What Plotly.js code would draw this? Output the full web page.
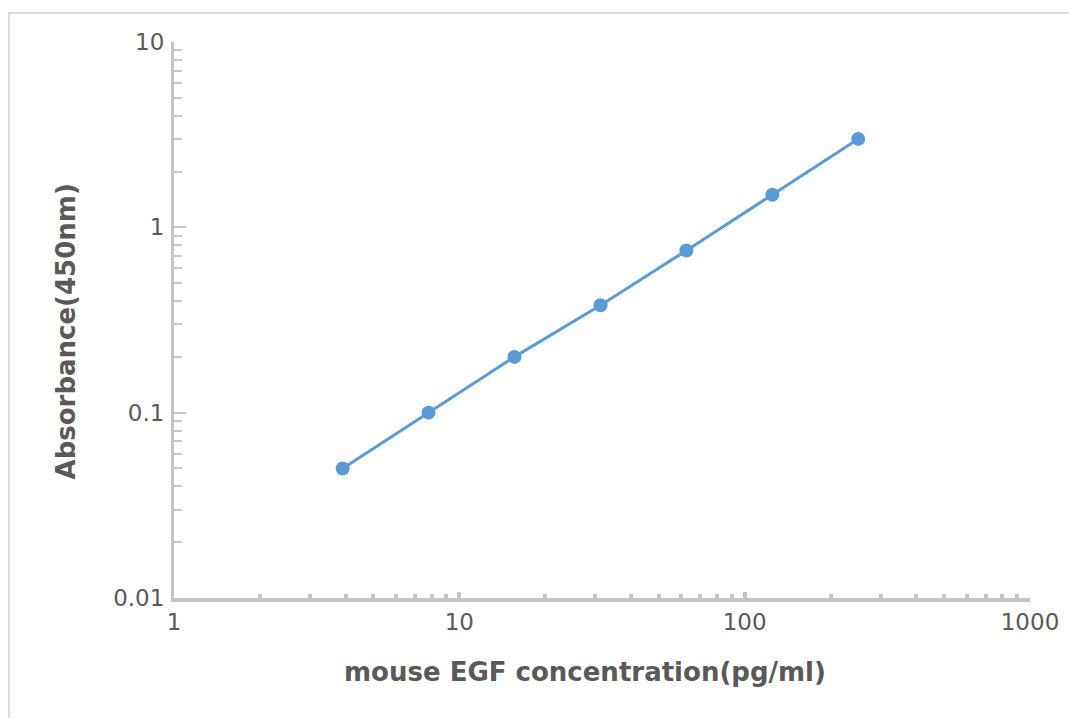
<!DOCTYPE html>
<html>
<head>
<meta charset="utf-8">
<script src="https://cdn.plot.ly/plotly-3.0.1.min.js"></script>
<style>
html,body{margin:0;padding:0;background:#fff;}
#frame{position:absolute;left:8px;top:12px;width:1061px;height:706px;border-left:2px solid #dcdcdc;border-top:2px solid #dcdcdc;box-sizing:border-box;}
#chart{position:absolute;left:0;top:0;width:1069px;height:718px;}
</style>
</head>
<body>
<div id="frame"></div>
<div id="chart"></div>
<script>
// Data
const concentration = [3.9, 7.8, 15.6, 31.25, 62.5, 125, 250];
const absorbance = [0.05, 0.1, 0.2, 0.38, 0.75, 1.5, 3.0];
const xMajorTicks = [1, 10, 100, 1000];
const xMajorLabels = ['1', '10', '100', '1000'];
const xMinorTicks = [2,3,4,5,6,7,8,9,20,30,40,50,60,70,80,90,200,300,400,500,600,700,800,900];
const yMajorTicks = [0.01, 0.1, 1, 10];
const yMajorLabels = ['0.01', '0.1', '1', '10'];
const yMinorTicks = [0.02,0.03,0.04,0.05,0.06,0.07,0.08,0.09,0.2,0.3,0.4,0.5,0.6,0.7,0.8,0.9,2,3,4,5,6,7,8,9];
const xTitle = 'mouse EGF concentration(pg/ml)';
const yTitle = 'Absorbance(450nm)';

const blue = '#5b9bd5';
const trace = {
  x: concentration, y: absorbance, type: 'scatter', mode: 'lines+markers',
  line: {color: blue, width: 3},
  marker: {color: blue, size: 14},
  cliponaxis: false,
  hoverinfo: 'skip'
};
const fontFam = 'DejaVu Sans, sans-serif';
const titleFont = {family: fontFam, size: 26, color: '#595959', weight: 'bold'};
const layout = {
  width: 1069, height: 718,
  margin: {l: 174, r: 39, t: 42, b: 120, pad: 0},
  paper_bgcolor: 'rgba(0,0,0,0)', plot_bgcolor: 'rgba(0,0,0,0)',
  showlegend: false,
  font: {family: fontFam, color: '#595959', size: 23},
  xaxis: {
    type: 'log', range: [0, 3],
    tickmode: 'array', tickvals: xMajorTicks, ticktext: xMajorLabels,
    ticks: 'inside', ticklen: 6, tickwidth: 4, tickcolor: '#c4c4c4',
    showline: true, linecolor: '#c4c4c4', linewidth: 4,
    showgrid: false, zeroline: false,
    tickfont: {family: fontFam, size: 23, color: '#595959'},
    ticklabelstandoff: 0,
    minor: {tickmode: 'array', tickvals: xMinorTicks, ticks: 'inside', ticklen: 4, tickwidth: 4, tickcolor: '#c4c4c4', showgrid: false}
  },
  yaxis: {
    type: 'log', range: [-2, 1],
    tickmode: 'array', tickvals: yMajorTicks, ticktext: yMajorLabels,
    ticks: 'inside', ticklen: 12, tickwidth: 2, tickcolor: '#c8c8c8',
    showline: true, linecolor: '#c4c4c4', linewidth: 3,
    showgrid: false, zeroline: false,
    tickfont: {family: fontFam, size: 23, color: '#595959'},
    ticklabelstandoff: 2,
    minor: {tickmode: 'array', tickvals: yMinorTicks, ticks: 'inside', ticklen: 8, tickwidth: 2, tickcolor: '#c8c8c8', showgrid: false}
  },
  annotations: [
    {text: xTitle, xref: 'paper', yref: 'paper', x: 0.4807, y: -0.1331, xanchor: 'center', yanchor: 'middle', showarrow: false, font: titleFont},
    {text: yTitle, xref: 'paper', yref: 'paper', x: -0.1262, y: 0.4793, xanchor: 'center', yanchor: 'middle', textangle: -90, showarrow: false, font: titleFont}
  ]
};
Plotly.newPlot('chart', [trace], layout, {displayModeBar: false, staticPlot: true});
</script>
</body>
</html>
